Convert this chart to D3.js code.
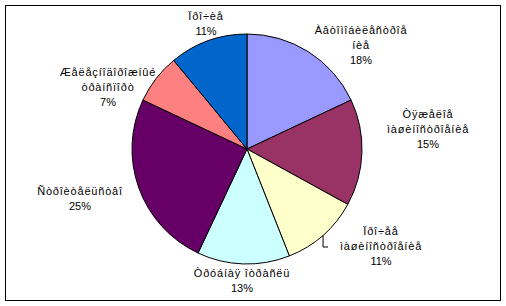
<!DOCTYPE html>
<html><head><meta charset="utf-8">
<script src="https://cdn.jsdelivr.net/npm/d3@7"></script>
<style>body{margin:0;background:#fff}svg{display:block}text{font-family:"Liberation Sans",Arial,sans-serif;font-size:11px;fill:#000}</style>
</head><body><svg id="c" width="506" height="306"></svg>
<script>
const categories = [
  ["Àâòîìîáèëåñòðîå", "íèå"],
  ["Òÿæåëîå", "ìàøèíîñòðîåíèå"],
  ["Ïðî÷åå", "ìàøèíîñòðîåíèå"],
  ["Òðóáíàÿ îòðàñëü"],
  ["Ñòðîèòåëüñòâî"],
  ["Æåëåçíîäîðîæíûé", "òðàíñïîðò"],
  ["Ïðî÷èå"]
];
const values = [18, 15, 11, 13, 25, 7, 11];
const percentLabels = ["18%", "15%", "11%", "13%", "25%", "7%", "11%"];

const colors = ["#9999FF", "#993366", "#FFFFCC", "#CCFFFF", "#660066", "#FF8080", "#0066CC"];
// label block anchors (center x, first baseline y) relative to pie center
const labelOffsets = [[114, -115], [181, -31], [134, 86], [-5, 128], [-167, 46], [-139, -73], [-41, -129]];
const leader = [false, false, true, false, false, false, false];

const svg = d3.select("#c");
svg.append("rect").attr("x", 5.5).attr("y", 5.5).attr("width", 495).attr("height", 295)
  .attr("fill", "#fff").attr("stroke", "#000").attr("stroke-width", 1);

const cx = 247, cy = 149, R = 115;
const g = svg.append("g").attr("transform", `translate(${cx},${cy})`);
const pie = d3.pie().sort(null).value(d => d)(values);
const arc = d3.arc().innerRadius(0).outerRadius(R);
g.selectAll("path").data(pie).join("path")
  .attr("d", arc).attr("fill", (d, i) => colors[i])
  .attr("stroke", "#000").attr("stroke-width", 1);

const lh = 15;
pie.forEach((d, i) => {
  const [ox, oy] = labelOffsets[i];
  const t = g.append("text").attr("text-anchor", "middle");
  categories[i].forEach((l, k) => t.append("tspan").attr("x", ox).attr("y", oy + k * lh)
    .style("letter-spacing", "0.8px").text(l));
  t.append("tspan").attr("x", ox).attr("y", oy + categories[i].length * lh).text(percentLabels[i]);
  if (leader[i]) {
    const a = (d.startAngle + d.endAngle) / 2;
    const px = R * Math.sin(a), py = -R * Math.cos(a);
    const ly = oy + lh - 3;
    g.append("path").attr("d", `M${px},${py}V${ly}H${px + 5}`)
      .attr("fill", "none").attr("stroke", "#000").attr("stroke-width", 1);
  }
});
</script></body></html>
